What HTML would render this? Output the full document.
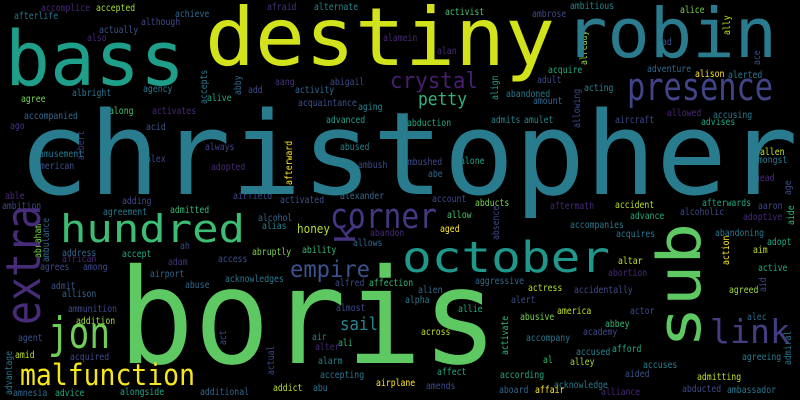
<!DOCTYPE html>
<html><head><meta charset="utf-8"><style>
html,body{margin:0;padding:0;background:#000;}
svg{display:block;}
text{font-family:"DejaVu Sans Mono","Liberation Mono",monospace;}
</style></head><body>
<svg id="cloud" width="800" height="400" viewBox="0 0 800 400" xmlns="http://www.w3.org/2000/svg">
<rect width="800" height="400" fill="#000"/>
</svg>
<script>
// big words: text, x, baseline y, font size, text length, color, rotation
const bigWords = [
 ["christopher",18,194,115,780,"#287c8e",0],
 ["boris",118,363,132,380,"#5ec962",0],
 ["destiny",205,65,80,350,"#d2e21b",0],
 ["bass",5,85,76,180,"#1f9e89",0],
 ["robin",565,57,69,212,"#2a7b8e",0],
 ["presence",627,100,38,146,"#414487",0],
 ["crystal",390,88,22,88,"#481f70",0],
 ["petty",418,105,18,49,"#2fb47c",0],
 ["corner",330,228,35,107,"#453781",0],
 ["hundred",60,242,38,185,"#3dbc74",0],
 ["jon",48,348,44,62,"#6ece58",0],
 ["malfunction",20,385,29,175,"#f5e61e",0],
 ["empire",290,277,23,80,"#3b528b",0],
 ["sail",340,330,18,38,"#25858e",0],
 ["honey",297,233,12,33,"#b5de2b",0],
 ["october",402,272,43,208,"#1f988b",0],
 ["link",710,343,33,80,"#433d84",0],
 ["extra",40,325,48,120,"#472c7a",-90],
 ["sub",700,348,60,125,"#5ec962",-90],
 ["k",355,245,28,22,"#46337e",-90]
];
// small words: text, x, baseline y, color, rotation (-90 = vertical)
const smallWords = [
 ["accomplice",41,11,"#482878",0],["accepted",96,11,"#a0da39",0],["afterlife",14,19,"#2a788e",0],
 ["achieve",175,17,"#31688e",0],["afraid",267,10,"#46337e",0],["alternate",314,10,"#23888e",0],
 ["although",141,25,"#3e4a89",0],["actually",99,33,"#39568c",0],["also",87,41,"#482677",0],
 ["alamein",383,41,"#482878",0],["accepts",207,104,"#2a788e",-90],["abby",241,95,"#31688e",-90],
 ["aang",275,85,"#46337e",0],["abigail",330,85,"#3e4a89",0],["agency",143,92,"#2a788e",0],
 ["add",248,93,"#3e4a89",0],["activity",295,93,"#31688e",0],["albright",72,96,"#2a788e",0],
 ["agree",21,102,"#7ad151",0],["alive",207,101,"#22a884",0],["acquaintance",298,106,"#3b528b",0],
 ["aging",358,110,"#25848e",0],["along",109,114,"#4ac16d",0],["activates",152,114,"#482878",0],
 ["accompanied",24,119,"#31688e",0],["advanced",326,123,"#1fa088",0],["ago",10,129,"#46337e",0],
 ["acid",146,130,"#3b528b",0],["albert",84,160,"#453882",-90],["always",205,150,"#414487",0],
 ["abused",340,150,"#26828e",0],["amusement",39,157,"#2a788e",0],["alex",146,162,"#3e4a89",0],
 ["american",35,169,"#3b528b",0],["adopted",211,170,"#482878",0],["ambush",358,168,"#3e4a89",0],
 ["afterward",292,185,"#fde725",-90],["able",5,199,"#482878",0],["airfield",233,199,"#3e4a89",0],
 ["alexander",340,199,"#31688e",0],
 ["activist",445,15,"#4ac16d",0],["ambrose",532,17,"#3e4a89",0],["ambitious",570,9,"#23888e",0],
 ["alice",680,13,"#7ad151",0],["ally",730,35,"#c2df23",-90],["alan",437,54,"#482878",0],
 ["ad",662,45,"#3b528b",0],["already",587,65,"#95d840",-90],["ace",760,65,"#3e4a89",-90],
 ["acquire",548,73,"#22a884",0],["adventure",647,72,"#31688e",0],["alison",695,77,"#fde725",0],
 ["alerted",728,78,"#2a788e",0],["adult",537,83,"#3e4a89",0],["align",498,100,"#2a9d8e",-90],
 ["acting",584,91,"#26828e",0],["abandoned",506,97,"#2a788e",0],["amount",533,104,"#31688e",0],
 ["allowing",580,128,"#3e4a89",-90],["allowed",667,116,"#482878",0],["accusing",713,118,"#2a788e",0],
 ["abduction",407,126,"#22a884",0],["admits",491,123,"#26828e",0],["amulet",524,123,"#23888e",0],
 ["aircraft",615,123,"#3e4a89",0],["advises",701,125,"#22a884",0],["allen",760,155,"#c8e020",0],
 ["ambushed",403,165,"#3e4a89",0],["alone",460,164,"#1fa088",0],["amongst",753,163,"#2a788e",0],
 ["abe",428,177,"#31688e",0],["ahead",750,181,"#482878",0],["age",791,195,"#3b528b",-90],
 ["ambition",2,209,"#3e4a89",0],["adding",122,204,"#3e4a89",0],["activated",280,203,"#3b528b",0],
 ["abraham",41,258,"#7ad151",-90],["ambulance",49,262,"#31688e",-90],["agreement",103,215,"#2a788e",0],
 ["admitted",170,213,"#35b779",0],["alcohol",258,221,"#31688e",0],["alias",262,229,"#25848e",0],
 ["abandon",370,236,"#482878",0],["allows",353,246,"#31688e",0],["ah",180,249,"#3e4a89",0],
 ["accept",122,257,"#22a884",0],["address",62,256,"#31688e",0],["abruptly",252,255,"#7ad151",0],
 ["ability",302,253,"#35b779",0],["african",62,262,"#482878",0],["adam",168,265,"#46337e",0],
 ["access",218,262,"#3b528b",0],["agrees",40,270,"#3e4a89",0],["among",83,270,"#3e4a89",0],
 ["airport",150,277,"#31688e",0],["acknowledges",225,282,"#2a788e",0],["admit",51,289,"#3b528b",0],
 ["abuse",185,288,"#31688e",0],["alfred",335,286,"#3e4a89",0],["affection",369,286,"#35b779",0],
 ["allison",62,297,"#31688e",0],["ammunition",68,312,"#3e4a89",0],["almost",336,311,"#3e4a89",0],
 ["addition",76,324,"#a0da39",0],["agent",18,341,"#3b528b",0],["act",226,345,"#3e4a89",-90],
 ["air",312,340,"#26828e",0],["ali",338,346,"#35b779",0],["alter",315,350,"#482878",0],
 ["actual",274,375,"#3e4a89",-90],["amid",15,358,"#c2df23",0],["acquired",70,360,"#3e4a89",0],
 ["alarm",318,364,"#26828e",0],["advantage",12,395,"#2a788e",-90],["accepting",320,378,"#2a788e",0],
 ["addict",273,391,"#c2df23",0],["abu",313,391,"#2a788e",0],["airplane",376,386,"#fde725",0],
 ["amnesia",13,396,"#31688e",0],["advice",55,396,"#22a884",0],["alongside",120,395,"#22a884",0],
 ["additional",200,395,"#31688e",0],
 ["account",432,202,"#3e4a89",0],["abducts",475,206,"#7ad151",0],["aftermath",550,209,"#482878",0],
 ["accident",615,208,"#b5de2b",0],["afterwards",702,206,"#22a884",0],["aaron",758,209,"#3e4a89",0],
 ["allow",447,218,"#4ac16d",0],["advance",630,219,"#22a884",0],["alcoholic",680,215,"#3e4a89",0],
 ["adoptive",743,220,"#482878",0],["aide",794,225,"#35b779",-90],["aged",440,232,"#fde725",0],
 ["absence",499,240,"#3e4a89",-90],["accompanies",570,228,"#2a788e",0],["acquires",616,237,"#2a788e",0],
 ["abandoning",715,236,"#2a788e",0],["adopt",767,245,"#22a884",0],["action",729,265,"#fde725",-90],
 ["aim",753,253,"#c2df23",0],["altar",618,264,"#c2df23",0],["abortion",608,276,"#482878",0],
 ["active",758,271,"#22a884",0],["aggressive",475,284,"#31688e",0],["actress",528,291,"#b5de2b",0],
 ["accidentally",574,293,"#3e4a89",0],["aid",766,292,"#3e4a89",-90],["agreed",729,293,"#a0da39",0],
 ["alien",418,293,"#31688e",0],["alpha",405,303,"#2a788e",0],["alert",511,303,"#3e4a89",0],
 ["allie",458,312,"#22a884",0],["america",557,314,"#c2df23",0],["actor",630,314,"#3e4a89",0],
 ["alec",747,320,"#31688e",0],["abbey",605,327,"#35b779",0],["abusive",520,320,"#7ad151",0],
 ["activate",508,355,"#35b779",-90],["across",421,335,"#c2df23",0],["accompany",526,341,"#2a788e",0],
 ["academy",583,335,"#3e4a89",0],["admiral",791,365,"#2a788e",-90],["accused",576,355,"#26828e",0],
 ["afford",612,352,"#22a884",0],["al",543,363,"#35b779",0],["alley",570,365,"#a0da39",0],
 ["agreeing",742,360,"#2a788e",0],["accuses",643,368,"#26828e",0],["affect",437,375,"#22a884",0],
 ["according",500,378,"#22a884",0],["aided",625,377,"#3b528b",0],["admitting",697,380,"#c2df23",0],
 ["acknowledge",554,388,"#2a788e",0],["amends",426,389,"#3e4a89",0],["aboard",499,393,"#31688e",0],
 ["affair",535,393,"#fde725",0],["alliance",601,395,"#482878",0],["abducted",682,392,"#3e4a89",0],
 ["ambassador",727,393,"#2a788e",0]
];
const svg = document.getElementById('cloud');
const NS = 'http://www.w3.org/2000/svg';
function addWord(w, x, y, size, len, color, rot) {
  const t = document.createElementNS(NS, 'text');
  
  
  t.setAttribute('x', x);
  t.setAttribute('y', y);
  t.setAttribute('font-size', size);
  t.setAttribute('fill', color);
  t.setAttribute('textLength', len);
  t.setAttribute('lengthAdjust', 'spacingAndGlyphs');
  if (rot) t.setAttribute('transform', 'rotate(' + rot + ' ' + x + ' ' + y + ')');
  t.textContent = w;
  svg.appendChild(t);
}
smallWords.forEach(d => addWord(d[0], d[1], d[2], 10, d[0].length * 4.9, d[3], d[4]));
bigWords.forEach(d => addWord(d[0], d[1], d[2], d[3], d[4], d[5], d[6]));
</script>
</body></html>
